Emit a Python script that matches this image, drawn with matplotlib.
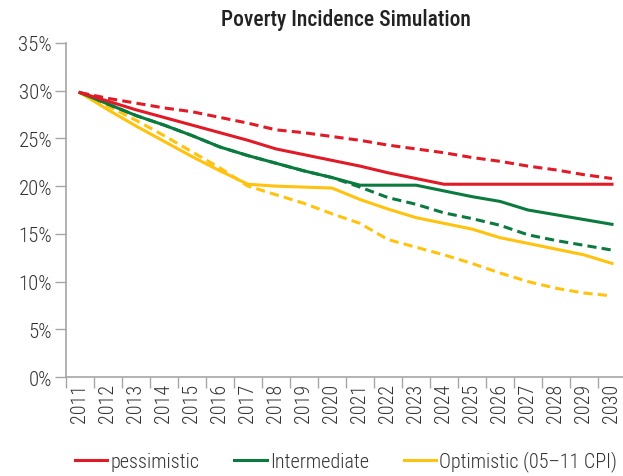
import matplotlib
matplotlib.use("Agg")
import matplotlib.pyplot as plt
from matplotlib.lines import Line2D
from matplotlib.ticker import FuncFormatter, FixedLocator
from matplotlib import font_manager as fm

years = [str(y) for y in range(2011, 2031)]

pess_solid = [29.8, 28.9, 28.0, 27.2, 26.4, 25.6, 24.8, 23.9, 23.3, 22.7,
              22.1, 21.4, 20.8, 20.2, 20.2, 20.2, 20.2, 20.2, 20.2, 20.2]
pess_dash = [29.8, 29.2, 28.7, 28.2, 27.8, 27.2, 26.6, 25.9, 25.6, 25.2,
             24.8, 24.3, 23.9, 23.5, 23.0, 22.6, 22.1, 21.7, 21.2, 20.8]
inter_solid = [29.8, 28.6, 27.4, 26.4, 25.3, 24.1, 23.2, 22.4, 21.6, 20.9,
               20.1, 20.1, 20.1, 19.5, 18.9, 18.4, 17.5, 17.0, 16.5, 16.0]
inter_dash = [29.8, 28.6, 27.4, 26.4, 25.3, 24.1, 23.2, 22.4, 21.6, 20.9,
              19.9, 18.8, 18.1, 17.2, 16.6, 15.9, 14.9, 14.3, 13.8, 13.3]
opt_solid = [29.8, 28.0, 26.3, 24.7, 23.1, 21.6, 20.2, 20.0, 19.9, 19.8,
             18.6, 17.6, 16.7, 16.1, 15.5, 14.6, 14.0, 13.4, 12.8, 11.9]
opt_dash = [29.8, 28.4, 26.9, 25.3, 23.6, 21.9, 20.0, 19.1, 18.2, 17.1,
            16.1, 14.4, 13.6, 12.8, 11.9, 10.9, 10.0, 9.3, 8.8, 8.5]

labels = ["pessimistic", "Intermediate", "Optimistic (05\u201311 CPI)"]
RED, GREEN, YELLOW = "#E01B27", "#0B7A3E", "#FFC20E"

available = {f.name for f in fm.fontManager.ttflist}
main_font = next((n for n in ["Roboto Condensed", "Pragati Narrow", "Archivo Narrow",
                              "PT Sans Narrow", "Liberation Sans"] if n in available),
                 "DejaVu Sans")
plt.rcParams["font.family"] = [main_font, "DejaVu Sans"]
plt.rcParams["font.weight"] = "light"

fig = plt.figure(figsize=(6.23, 4.77), dpi=100)
ax = fig.add_axes([66 / 623, 1 - 378 / 477, 560 / 623, 334 / 477])

x = list(range(len(years)))
lw = 2.2
dash = (0, (3, 1.7))
ax.plot(x, opt_dash, color=YELLOW, lw=lw, ls=dash)
ax.plot(x, inter_dash, color=GREEN, lw=lw, ls=dash)
ax.plot(x, pess_dash, color=RED, lw=lw, ls=dash)
ax.plot(x, opt_solid, color=YELLOW, lw=lw)
ax.plot(x, inter_solid, color=GREEN, lw=lw)
ax.plot(x, pess_solid, color=RED, lw=lw)

ax.set_xlim(-0.5, len(years) - 0.5)
ax.set_ylim(0, 35)
ax.set_yticks(range(0, 36, 5))
ax.yaxis.set_major_formatter(FuncFormatter(lambda v, p: f"{int(v)}%"))
ax.set_xticks(x)
ax.set_xticklabels(years, rotation=90)
ax.xaxis.set_minor_locator(FixedLocator([i - 0.5 for i in range(len(years) + 1)]))
ax.tick_params(axis="x", which="major", length=0, pad=4, labelsize=14.5, colors="#333333")
ax.tick_params(axis="x", which="minor", length=8, color="#A6A6A6", width=1)
ax.tick_params(axis="y", length=8, color="#A6A6A6", width=1, labelsize=15,
               labelcolor="#333333", pad=2)
for s in ["top", "right"]:
    ax.spines[s].set_visible(False)
for s in ["left", "bottom"]:
    ax.spines[s].set_color("#A6A6A6")
    ax.spines[s].set_linewidth(1.2)

ax.set_title("Poverty Incidence Simulation", fontsize=15.5, fontweight="medium",
             color="#222222", pad=13)

handles = [Line2D([], [], color=c, lw=2.2) for c in (RED, GREEN, YELLOW)]
fig.legend(handles, labels, loc="center", bbox_to_anchor=(346 / 623, 1 - 462 / 477),
           ncol=3, frameon=False, fontsize=14.5, handlelength=1.6, handletextpad=0.15,
           columnspacing=1.75, labelcolor="#333333", borderpad=0.2)

fig.savefig("out.png", dpi=100)
